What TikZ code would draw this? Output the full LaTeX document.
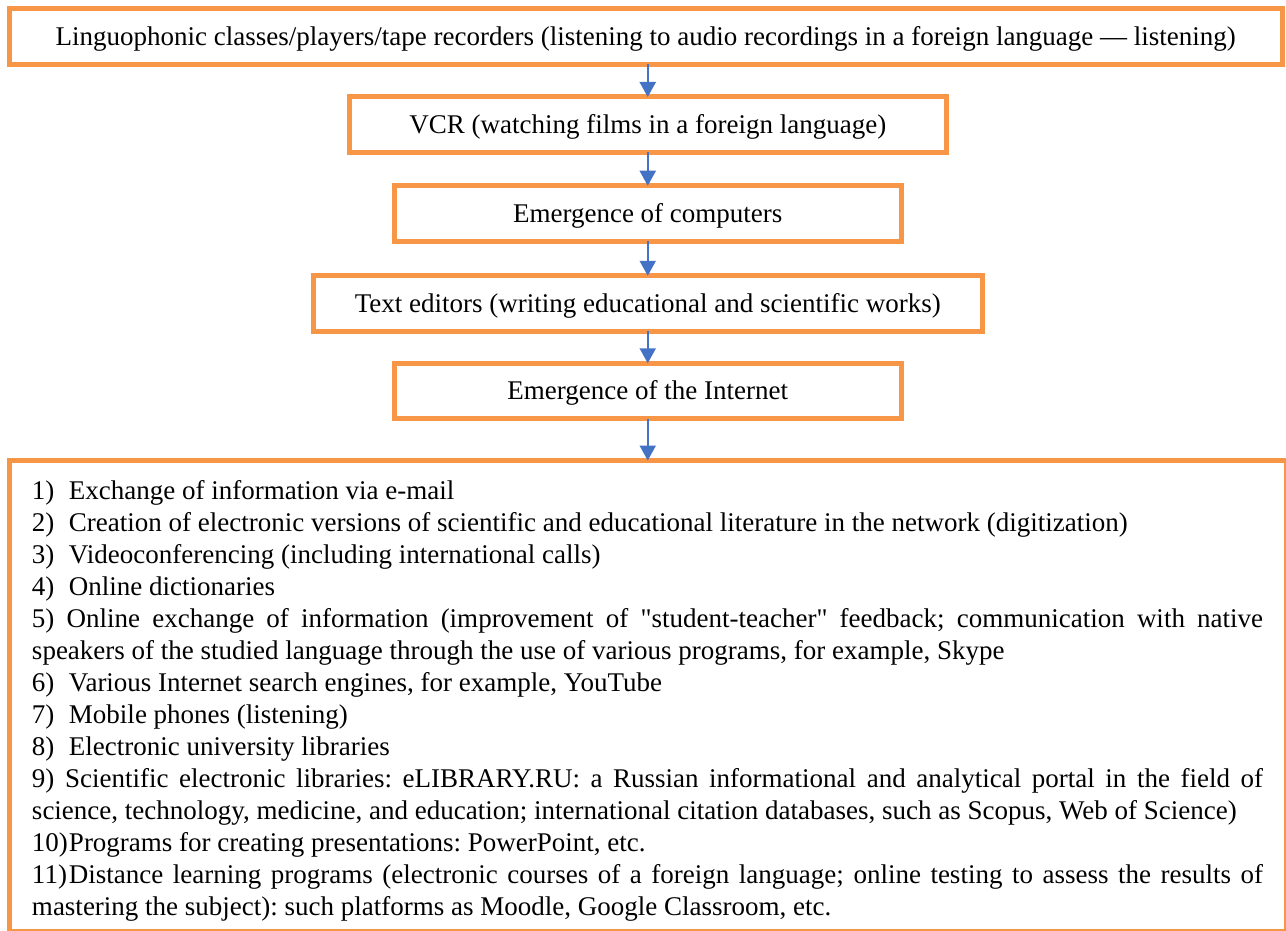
\documentclass[tikz,border=0pt]{standalone}
\usepackage{fontspec}
\setmainfont{Liberation Serif}
\usetikzlibrary{arrows.meta}
\definecolor{boxorange}{HTML}{F79646}
\definecolor{arrowblue}{HTML}{4472C4}
\newcommand{\itemnum}[1]{\makebox[18.5pt][l]{#1}}
\newcommand{\fullline}[1]{\hbox to 615.5pt{#1}}
\frenchspacing
\begin{document}
\begin{tikzpicture}[x=0.5pt,y=-0.5pt,
  font=\fontsize{13.5pt}{16pt}\selectfont\frenchspacing,
  stagebox/.style={draw=boxorange, line width=2.5pt, inner sep=0pt, outer sep=0pt,
    minimum height=27.75pt, text height=8.9pt, text depth=0pt},
  listbox/.style={draw=boxorange, line width=2.5pt, inner sep=0pt, outer sep=0pt},
  flowarrow/.style={draw=arrowblue, line width=1.1pt, -{Triangle[length=7.5pt,width=8pt]}},
  listline/.style={anchor=base west, inner sep=0pt, outer sep=0pt}]
\useasboundingbox (0,0) rectangle (1286,931);

\node[stagebox, minimum width=636.25pt] (b1) at (645.75,36.5)
  {Linguophonic classes/players/tape recorders (listening to audio recordings in a foreign language — listening)};
\node[stagebox, minimum width=298.25pt] (b2) at (647.75,124.75)
  {VCR (watching films in a foreign language)};
\node[stagebox, minimum width=253.25pt] (b3) at (647.75,213.5)
  {Emergence of computers};
\node[stagebox, minimum width=334.75pt] (b4) at (647.75,303.5)
  {Text editors (writing educational and scientific works)};
\node[stagebox, minimum width=253.25pt] (b5) at (647.75,391)
  {Emergence of the Internet};
\node[listbox, minimum width=638.5pt, minimum height=235.5pt] (list) at (648,696) {};

\draw[flowarrow] (b1.south -| b2.north) -- (b2.north);
\draw[flowarrow] (b2.south) -- (b3.north);
\draw[flowarrow] (b3.south) -- (b4.north);
\draw[flowarrow] (b4.south) -- (b5.north);
\draw[flowarrow] (b5.south) -- (b5.south |- list.north);

\node[listline] (l1) at (32,499) {\itemnum{1)}Exchange of information via e-mail};
\node[listline] (l2) at (32,531) {\itemnum{2)}Creation of electronic versions of scientific and educational literature in the network (digitization)};
\node[listline] (l3) at (32,563) {\itemnum{3)}Videoconferencing (including international calls)};
\node[listline] (l4) at (32,595) {\itemnum{4)}Online dictionaries};
\node[listline] (l5) at (32,627) {\fullline{5) Online exchange of information (improvement of \textquotedbl student-teacher\textquotedbl{} feedback; communication with native}};
\node[listline] (l6) at (32,659) {speakers of the studied language through the use of various programs, for example, Skype};
\node[listline] (l7) at (32,691) {\itemnum{6)}Various Internet search engines, for example, YouTube};
\node[listline] (l8) at (32,723) {\itemnum{7)}Mobile phones (listening)};
\node[listline] (l9) at (32,755) {\itemnum{8)}Electronic university libraries};
\node[listline] (l10) at (32,787) {\fullline{9) Scientific electronic libraries: eLIBRARY.RU: a Russian informational and analytical portal in the field of}};
\node[listline] (l11) at (32,819) {science, technology, medicine, and education; international citation databases, such as Scopus, Web of Science)};
\node[listline] (l12) at (32,851) {\itemnum{10)}Programs for creating presentations: PowerPoint, etc.};
\node[listline] (l13) at (32,883) {\fullline{\itemnum{11)}Distance learning programs (electronic courses of a foreign language; online testing to assess the results of}};
\node[listline] (l14) at (32,915) {mastering the subject): such platforms as Moodle, Google Classroom, etc.};
\end{tikzpicture}
\end{document}
